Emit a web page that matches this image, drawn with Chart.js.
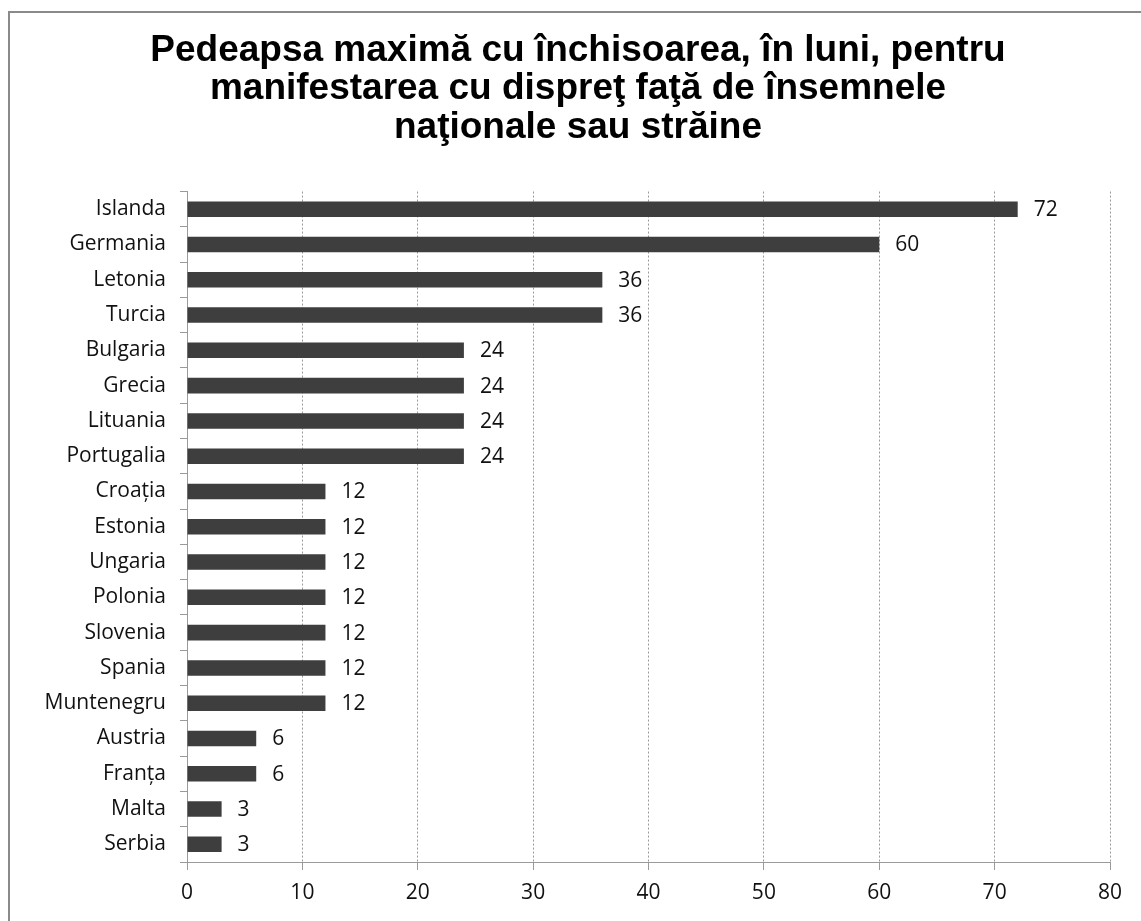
<!DOCTYPE html>
<html>
<head>
<meta charset="utf-8">
<script src="https://cdn.jsdelivr.net/npm/chart.js@4.4.1/dist/chart.umd.min.js"></script>
<style>
  html, body { margin: 0; padding: 0; background: #fff; overflow: hidden; }
  #frame { position: absolute; left: 8px; top: 11px; width: 1200px; height: 1000px;
           border-left: 2px solid #8a8a8a; border-top: 2px solid #8a8a8a; }
  #wrap { position: absolute; left: 0; top: 0; width: 1141px; height: 921px; }
</style>
</head>
<body>
<div id="frame"></div>
<div id="wrap"><canvas id="grafik"></canvas></div>
<script>
var tari = ["Islanda","Germania","Letonia","Turcia","Bulgaria","Grecia","Lituania","Portugalia",
  "Croația","Estonia","Ungaria","Polonia","Slovenia","Spania","Muntenegru","Austria","Franța","Malta","Serbia"];
var luni = [72,60,36,36,24,24,24,24,12,12,12,12,12,12,12,6,6,3,3];
var baslik = ["Pedeapsa maximă cu închisoarea, în luni, pentru",
  "manifestarea cu dispreţ faţă de însemnele",
  "naţionale sau străine"];
var xMin = 0, xMax = 80, xPas = 10;

// value labels next to each bar
var etiketler = {
  id: 'etiketler',
  afterDatasetsDraw: function(chart) {
    var ctx = chart.ctx;
    var meta = chart.getDatasetMeta(0);
    ctx.save();
    ctx.font = '21px "Open Sans"';
    ctx.fillStyle = '#111';
    ctx.textAlign = 'left';
    ctx.textBaseline = 'middle';
    meta.data.forEach(function(bar, i) {
      ctx.fillText(String(luni[i]), bar.x + 16, bar.y + 1);
    });
    ctx.restore();
  }
};

new Chart(document.getElementById("grafik"), {
  type: 'bar',
  data: {
    labels: tari,
    datasets: [{
      data: luni,
      backgroundColor: '#3e3e3e',
      borderWidth: 0,
      barPercentage: 0.44,
      categoryPercentage: 1
    }]
  },
  options: {
    indexAxis: 'y',
    responsive: true,
    maintainAspectRatio: false,
    animation: false,
    layout: { padding: { left: 46, right: 31, top: 12, bottom: 0 } },
    plugins: {
      legend: { display: false },
      tooltip: { enabled: false },
      title: {
        display: true,
        text: baslik,
        color: '#000',
        font: { family: '"Liberation Sans", Arial, sans-serif', size: 37, weight: 'bold', lineHeight: 1.05 },
        padding: { top: 19, bottom: 44 }
      }
    },
    scales: {
      x: {
        min: xMin, max: xMax,
        ticks: { stepSize: xPas, color: '#111', padding: 10,
                 font: { family: '"Open Sans"', size: 21 } },
        grid: { color: '#9a9a9a', lineWidth: 1, tickLength: 8, drawOnChartArea: true },
        border: { color: '#9a9a9a', dash: [2, 2] },
        afterFit: function(s) { s.height = 59; }
      },
      y: {
        ticks: { color: '#111', padding: 14, font: { family: '"Open Sans"', size: 21 } },
        grid: { color: '#9a9a9a', offset: true, drawOnChartArea: false, tickLength: 7 },
        border: { color: '#9a9a9a', dash: [2, 2] },
        afterFit: function(s) { s.width = 141; }
      }
    }
  },
  plugins: [etiketler]
});
</script>
</body>
</html>
